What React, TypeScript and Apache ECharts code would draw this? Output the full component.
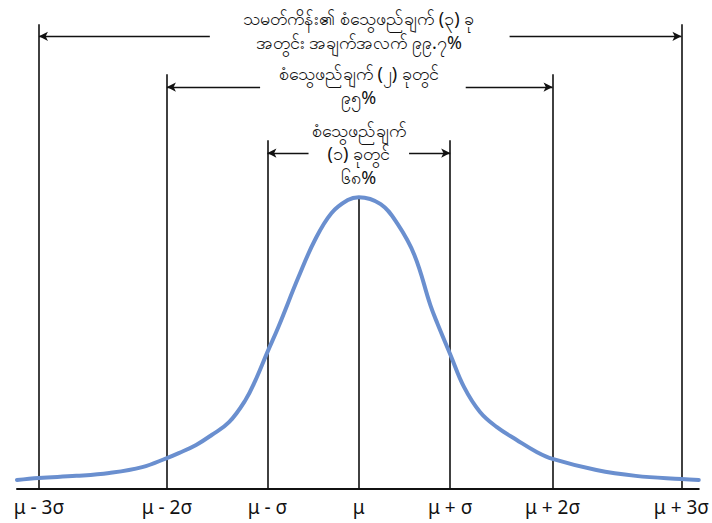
import React, { useEffect, useRef } from "react";
import * as echarts from "echarts";

// σ marks (positions along the x axis, in σ-like units)
const sigmaLabels = ["μ - 3σ", "μ - 2σ", "μ - σ", "μ", "μ + σ", "μ + 2σ", "μ + 3σ"];
const sigmaPositions = [-3.5, -2.1, -1, 0, 1, 2.12, 3.53];
// heights reached by each vertical guide line (1 = peak of the curve)
const guideTops = [1.592, 1.421, 1.195, 1.0, 1.195, 1.421, 1.592];

// curve: x (σ units), y (relative to peak)
const curveX = [
  -3.74, -3.5, -3.09, -2.73, -2.37, -2.1, -1.97, -1.78, -1.61, -1.42, -1.24, -1.13, -1.0, -0.88, -0.66, -0.48,
  -0.3, -0.12, 0, 0.239, 0.424, 0.609, 0.783, 0.859, 1.0, 1.152, 1.326, 1.511, 1.728, 1.946, 2.12, 2.6, 3.03,
  3.53, 3.72,
];
const curveY = [
  0.031, 0.038, 0.045, 0.055, 0.075, 0.106, 0.123, 0.151, 0.185, 0.229, 0.305, 0.373, 0.469, 0.555, 0.726, 0.853,
  0.945, 0.99, 1.0, 0.976, 0.908, 0.801, 0.63, 0.568, 0.462, 0.349, 0.264, 0.212, 0.168, 0.127, 0.103, 0.065, 0.045,
  0.034, 0.031,
];

// range arrows: level, inner start (left/right), outer end (left/right)
const arrowLevels = [1.551, 1.377, 1.151];
const arrowInnerLeft = [-1.63, -1.08, -0.55];
const arrowInnerRight = [1.65, 1.17, 0.55];
const arrowOuterLeft = [-3.5, -2.1, -1];
const arrowOuterRight = [3.53, 2.12, 1];

// annotation texts
const rangeTexts = [
  "သမတ်ကိန်း၏ စံသွေဖည်ချက် (၃) ခု\nအတွင်း အချက်အလက် ၉၉.၇%",
  "စံသွေဖည်ချက် (၂) ခုတွင်\n၉၅%",
  "စံသွေဖည်ချက်\n(၁) ခုတွင်\n၆၈%",
];
const textCenters = [1.572, 1.384, 1.151];

const FONT = "'Noto Sans', 'DejaVu Sans', sans-serif";

export default function App() {
  const ref = useRef<HTMLDivElement>(null);
  useEffect(() => {
    if (!ref.current) return;
    const chart = echarts.init(ref.current, null, { renderer: "svg" });

    const guideLines = sigmaPositions.map((x, i) => [
      { coord: [x, 0] },
      { coord: [x, guideTops[i]] },
    ]);
    const arrows: any[] = [];
    arrowLevels.forEach((y, i) => {
      arrows.push([{ coord: [arrowInnerLeft[i], y] }, { coord: [arrowOuterLeft[i], y] }]);
      arrows.push([{ coord: [arrowInnerRight[i], y] }, { coord: [arrowOuterRight[i], y] }]);
    });

    const option: any = {
      animation: false,
      backgroundColor: "#ffffff",
      grid: { left: 17, right: 9, top: 22, bottom: 34 },
      xAxis: {
        type: "value",
        min: -3.74,
        max: 3.72,
        splitLine: { show: false },
        axisLine: { show: true, onZero: false, lineStyle: { color: "#111", width: 2 } },
        axisTick: { show: false },
        axisLabel: {
          customValues: sigmaPositions,
          formatter: (v: number) => {
            const i = sigmaPositions.findIndex((p) => Math.abs(p - v) < 1e-6);
            return i >= 0 ? sigmaLabels[i] : "";
          },
          color: "#111",
          fontSize: 19,
          fontFamily: FONT,
          margin: 8,
          showMinLabel: true,
          showMaxLabel: true,
          hideOverlap: false,
        },
      },
      yAxis: {
        type: "value",
        min: 0,
        max: 1.6,
        show: false,
        splitLine: { show: false },
      },
      series: [
        {
          type: "line",
          data: [],
          silent: true,
          markLine: {
            silent: true,
            symbol: ["none", "none"],
            label: { show: false },
            lineStyle: { color: "#111", width: 1.6, type: "solid" },
            data: guideLines,
          },
        },
        {
          type: "line",
          data: [],
          silent: true,
          markLine: {
            silent: true,
            symbol: ["none", "arrow"],
            symbolSize: [7, 9],
            label: { show: false },
            lineStyle: { color: "#111", width: 1.3, type: "solid" },
            data: arrows,
          },
        },
        {
          type: "line",
          data: curveX.map((x, i) => [x, curveY[i]]),
          smooth: 0.4,
          showSymbol: false,
          clip: false,
          lineStyle: { color: "#6A8FCF", width: 4, cap: "round" },
          z: 5,
        },
      ],
    };
    chart.setOption(option);

    const graphics = rangeTexts.map((t, i) => {
      const p = chart.convertToPixel({ gridIndex: 0 }, [0, textCenters[i]]) as number[];
      return {
        type: "text",
        x: p[0],
        y: p[1],
        style: {
          text: t,
          fill: "#111",
          fontSize: 18,
          fontFamily: FONT,
          align: "center",
          verticalAlign: "middle",
          lineHeight: 23.5,
        },
        z: 10,
      };
    });
    chart.setOption({ graphic: graphics });

    return () => chart.dispose();
  }, []);
  return <div ref={ref} style={{ width: 712, height: 523, position: "absolute", left: 0, top: 0 }} />;
}
